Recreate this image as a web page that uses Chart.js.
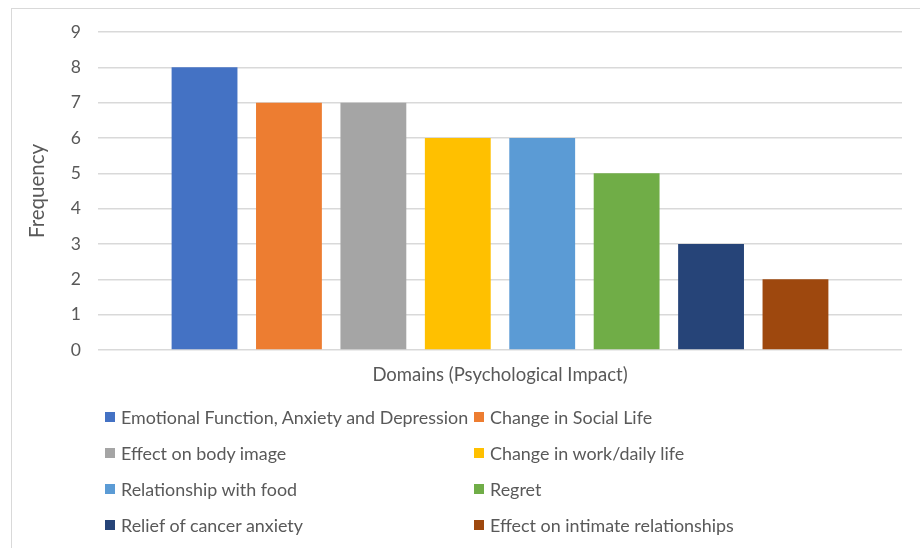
<!DOCTYPE html>
<html>
<head>
<meta charset="utf-8">
<script src="https://cdn.jsdelivr.net/npm/chart.js@4.4.1/dist/chart.umd.min.js"></script>
<style>
  html, body { margin: 0; padding: 0; background: #ffffff; }
  #wrap { position: relative; width: 920px; height: 548px; overflow: hidden; font-family: Lato, "Open Sans", sans-serif; }
  #frame { position: absolute; left: 11px; top: 8px; width: 940px; height: 580px; border: 1px solid #d9d9d9; box-sizing: border-box; }
  #chart { position: absolute; left: 0; top: 0; }
  #legend { position: absolute; left: 105px; top: 399px; width: 800px; }
  .item { position: absolute; display: flex; align-items: center; height: 36px; color: #595959; font-size: 17.9px; white-space: nowrap; }
  .sw { width: 10px; height: 10px; margin-right: 6px; flex: none; }
</style>
</head>
<body>
<div id="wrap">
  <div id="frame"></div>
  <canvas id="chart" width="920" height="548"></canvas>
  <div id="legend"></div>
</div>
<script>
// Psychological impact domains and how often each was reported
const domains = [
  "Emotional Function, Anxiety and Depression",
  "Change in Social Life",
  "Effect on body image",
  "Change in work/daily life",
  "Relationship with food",
  "Regret",
  "Relief of cancer anxiety",
  "Effect on intimate relationships"
];
const frequencies = [8, 7, 7, 6, 6, 5, 3, 2];
const colors = ["#4472C4", "#ED7D31", "#A5A5A5", "#FFC000", "#5B9BD5", "#70AD47", "#264478", "#9E480E"];
const yTicks = [0, 1, 2, 3, 4, 5, 6, 7, 8, 9];
const xTitle = "Domains (Psychological Impact)";
const yTitle = "Frequency";

const textColor = "#595959";
const gridColor = "#d9d9d9";
const fontFamily = "Lato, 'Open Sans', sans-serif";

// one dataset per domain, all sharing a single category slot
const datasets = domains.map((name, i) => ({
  label: name,
  data: [frequencies[i]],
  backgroundColor: colors[i],
  borderWidth: 0,
  categoryPercentage: 0.84,
  barPercentage: 0.78
}));

new Chart(document.getElementById("chart"), {
  type: "bar",
  data: { labels: [""], datasets },
  options: {
    responsive: false,
    animation: false,
    devicePixelRatio: 1,
    layout: { padding: { left: 10, top: 32, right: 18, bottom: 162 } },
    plugins: { legend: { display: false }, tooltip: { enabled: false } },
    scales: {
      x: {
        grid: { display: false, drawTicks: false },
        border: { display: false },
        ticks: { display: false },
        title: {
          display: true, text: xTitle, color: textColor,
          font: { family: fontFamily, size: 18.5 },
          padding: { top: 13.8, bottom: 0 }
        }
      },
      y: {
        min: 0, max: 9,
        afterBuildTicks: (scale) => { scale.ticks = yTicks.map(v => ({ value: v })); },
        afterFit: (scale) => { scale.width = 88; },
        grid: { color: gridColor, lineWidth: 1.5, drawTicks: false },
        border: { display: false },
        ticks: { color: textColor, padding: 17, font: { family: fontFamily, size: 17.5 } },
        title: {
          display: true, text: yTitle, color: textColor,
          font: { family: fontFamily, size: 20.5 },
          padding: { top: 15, bottom: 0 }
        }
      }
    }
  }
});

// two-column legend below the plot
const legend = document.getElementById("legend");
domains.forEach((name, i) => {
  const item = document.createElement("div");
  item.className = "item";
  item.style.left = (i % 2 === 0 ? 0 : 369) + "px";
  item.style.top = (Math.floor(i / 2) * 36) + "px";
  const sw = document.createElement("span");
  sw.className = "sw";
  sw.style.background = colors[i];
  const tx = document.createElement("span");
  tx.textContent = name;
  item.appendChild(sw);
  item.appendChild(tx);
  legend.appendChild(item);
});
</script>
</body>
</html>
